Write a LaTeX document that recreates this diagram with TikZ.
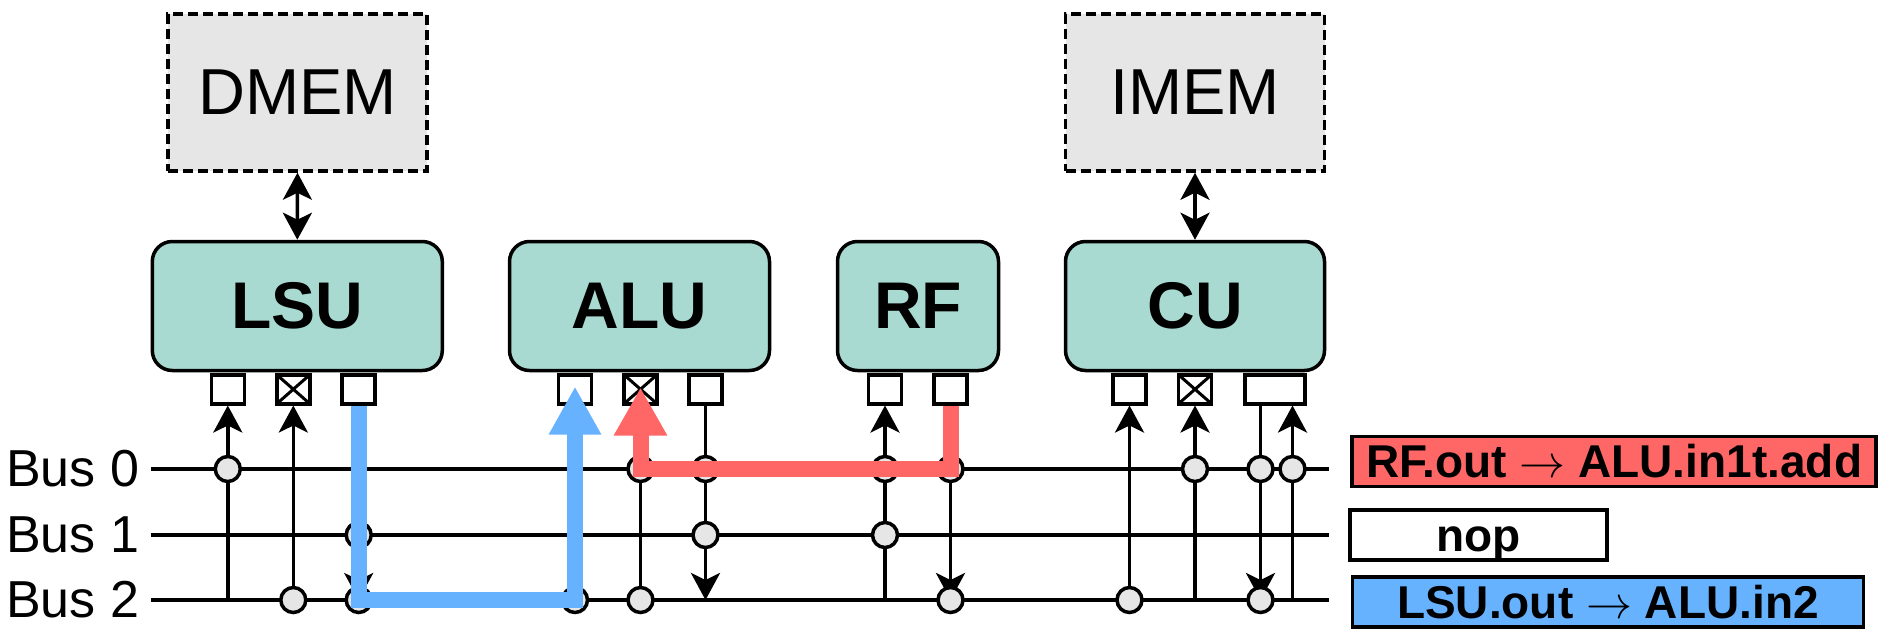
\RequirePackage{fix-cm}
\documentclass[tikz,border=0pt]{standalone}
\usepackage{fontspec}
\setmainfont{Liberation Sans}
\usetikzlibrary{arrows.meta}

\definecolor{unitfill}{HTML}{A8DAD2}
\definecolor{memfill}{HTML}{E6E6E6}
\definecolor{pathred}{HTML}{FF6666}
\definecolor{pathblue}{HTML}{66B2FF}

\begin{document}
\begin{tikzpicture}[
    x=1pt, y=-1pt,
    line width=3.5pt,
    unit/.style={draw,fill=unitfill,rounded corners=20pt,minimum height=129pt,
        font=\fontsize{66}{66}\selectfont\bfseries},
    mem/.style={draw,fill=memfill,dash pattern=on 10pt off 5pt,
        minimum width=259pt,minimum height=157pt,
        font=\fontsize{65}{65}\selectfont},
    port/.style={draw,fill=white,anchor=north,inner sep=0pt,
        minimum width=33pt,minimum height=29pt},
    xport/.style={port,path picture={
        \draw[line width=3pt]
            (path picture bounding box.north west) -- (path picture bounding box.south east)
            (path picture bounding box.north east) -- (path picture bounding box.south west);}},
    tap/.style={circle,draw,fill=memfill,minimum size=25pt,inner sep=0pt},
    buslabel/.style={anchor=east,inner sep=0pt,font=\fontsize{52}{52}\selectfont},
    wirein/.style={-{Stealth[length=27pt,width=29pt,inset=7pt]}},
    wireout/.style={-{Stealth[length=27pt,width=29pt,inset=7pt]}},
    dual/.style={{Stealth[length=27pt,width=29pt,inset=7pt]}-{Stealth[length=27pt,width=29pt,inset=7pt]}},
    hlred/.style={draw=pathred,line width=16pt,line join=miter,
        -{Triangle[length=48pt,width=50pt]}},
    hlblue/.style={draw=pathblue,line width=16pt,line join=miter,
        -{Triangle[length=48pt,width=49pt]}},
    legend/.style={draw,minimum height=50pt,inner sep=0pt,text height=32pt,text depth=0pt,
        font=\fontsize{46}{46}\selectfont\bfseries}
]

\useasboundingbox (0,0) rectangle (1878,629);

% Memories
\node[mem] (dmem) at (297.5,92.5) {DMEM};
\node[mem] (imem) at (1195,92.5) {IMEM};

% Units
\node[unit,minimum width=290pt] (lsu) at (297.3,306) {LSU};
\node[unit,minimum width=260pt] (alu) at (639.5,306) {ALU};
\node[unit,minimum width=161pt] (rf) at (918,306) {RF};
\node[unit,minimum width=259pt] (cu) at (1195,306) {CU};

\draw[dual] (dmem.south) -- (lsu.north);
\draw[dual] (imem.south) -- (cu.north);

% Buses
\coordinate (b0w) at (151,469);
\coordinate (b0e) at (1329,469);
\coordinate (b1w) at (151,535);
\coordinate (b1e) at (1329,535);
\coordinate (b2w) at (151,600);
\coordinate (b2e) at (1329,600);

\node[buslabel] (lbl0) at (141,469) {Bus 0};
\node[buslabel] (lbl1) at (141,535) {Bus 1};
\node[buslabel] (lbl2) at (141,600) {Bus 2};

\draw (b0w) -- (b0e);
\draw (b1w) -- (b1e);
\draw (b2w) -- (b2e);

% Ports
\node[port] (lsu-p1) at (227.8,373) {};
\node[xport] (lsu-p2) at (293.3,373) {};
\node[port] (lsu-p3) at (358.7,373) {};

\node[port] (alu-p1) at (575,373) {};
\node[xport] (alu-p2) at (640.5,373) {};
\node[port] (alu-p3) at (705.5,373) {};

\node[port] (rf-p1) at (885,373) {};
\node[port] (rf-p2) at (950.5,373) {};

\node[port] (cu-p1) at (1129.5,373) {};
\node[xport] (cu-p2) at (1195,373) {};
\node[port,minimum width=60pt] (cu-p3) at (1275,373) {};
\coordinate (cu-p3a) at ([xshift=-14.5pt]cu-p3.south);
\coordinate (cu-p3b) at ([xshift=17.5pt]cu-p3.south);

% Wires
\draw[wirein] (lsu-p1 |- b2w) -- (lsu-p1.south);
\draw[wirein] (lsu-p2 |- b2w) -- (lsu-p2.south);
\draw[wireout] (lsu-p3.south) -- (lsu-p3 |- b2w);

\draw[wirein] (alu-p1 |- b2w) -- (alu-p1.south);
\draw[wirein] (alu-p2 |- b2w) -- (alu-p2.south);
\draw[wireout] (alu-p3.south) -- (alu-p3 |- b2w);

\draw[wirein] (rf-p1 |- b2w) -- (rf-p1.south);
\draw[wireout] (rf-p2.south) -- (rf-p2 |- b2w);

\draw[wirein] (cu-p1 |- b2w) -- (cu-p1.south);
\draw[wirein] (cu-p2 |- b2w) -- (cu-p2.south);
\draw[wireout] (cu-p3a) -- (cu-p3a |- b2w);
\draw[wirein] (cu-p3b |- b2w) -- (cu-p3b);

% Taps
\node[tap] (lsu-t1) at (lsu-p1 |- b0w) {};
\node[tap] (lsu-t2) at (lsu-p2 |- b2w) {};
\node[tap] (lsu-t3a) at (lsu-p3 |- b1w) {};
\node[tap] (lsu-t3b) at (lsu-p3 |- b2w) {};

\node[tap] (alu-t1) at (alu-p1 |- b2w) {};
\node[tap] (alu-t2a) at (alu-p2 |- b0w) {};
\node[tap] (alu-t2b) at (alu-p2 |- b2w) {};
\node[tap] (alu-t3a) at (alu-p3 |- b0w) {};
\node[tap] (alu-t3b) at (alu-p3 |- b1w) {};

\node[tap] (rf-t1a) at (rf-p1 |- b0w) {};
\node[tap] (rf-t1b) at (rf-p1 |- b1w) {};
\node[tap] (rf-t2a) at (rf-p2 |- b0w) {};
\node[tap] (rf-t2b) at (rf-p2 |- b2w) {};

\node[tap] (cu-t1) at (cu-p1 |- b2w) {};
\node[tap] (cu-t2) at (cu-p2 |- b0w) {};
\node[tap] (cu-t3a) at (cu-p3a |- b0w) {};
\node[tap] (cu-t3b) at (cu-p3a |- b2w) {};
\node[tap] (cu-t3c) at (cu-p3b |- b0w) {};

% Active transfers
\draw[hlblue] (lsu-p3.south) -- (lsu-p3 |- b2w) -- (alu-p1 |- b2w)
    -- ([yshift=19pt]alu-p1.south);

\draw[hlred] (rf-p2.south) -- (rf-p2 |- b0w) -- (alu-p2 |- b0w)
    -- ([yshift=18pt]alu-p2.south);

% Legend
\node[legend,fill=pathred,minimum width=524pt] (leg-red) at (1614.2,461.5)
    {RF.out $\rightarrow$ ALU.in1t.add};
\node[legend,fill=white,minimum width=257pt] (leg-nop) at (1478.3,535)
    {nop};
\node[legend,fill=pathblue,minimum width=511pt] (leg-blue) at (1607.9,602)
    {LSU.out $\rightarrow$ ALU.in2};

\end{tikzpicture}
\end{document}
